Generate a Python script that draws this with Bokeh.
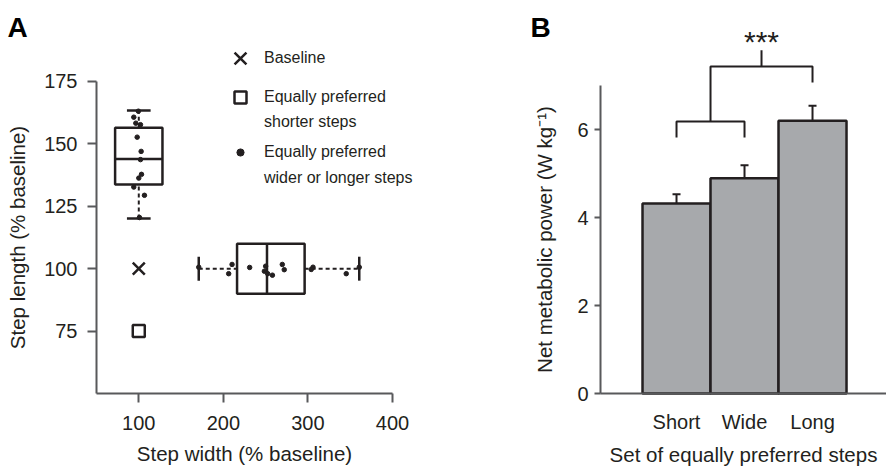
from bokeh.plotting import figure
from bokeh.models import (Range1d, FixedTicker, Legend, LegendItem, Label,
                          Whisker, ColumnDataSource, TeeHead)
from bokeh.layouts import row
from bokeh.embed import file_html
from bokeh.resources import INLINE
from bokeh.core.properties import value

# ---------------- data: panel A ----------------
baseline_width = [100]
baseline_length = [100]
shorter_width = [100]
shorter_length = [75]

# equally preferred longer steps (box along step length, at baseline width)
long_center = 100
long_stats = [120.1, 133.7, 143.9, 156.5, 163.4]   # low, q1, median, q3, high
long_x = [99.5, 94.1, 96.5, 102.0, 98.1, 102.8, 102.0, 103.2, 100.0, 94.1, 106.7, 100.8]
long_y = [163.1, 160.7, 158.3, 157.7, 152.7, 147.0, 143.7, 137.8, 136.3, 132.7, 129.4, 120.5]

# equally preferred wider steps (box along step width, at baseline length)
wide_center = 100
wide_stats = [170.9, 216.2, 251.6, 296.1, 360.7]
wide_x = [170.9, 210.3, 206.3, 231.1, 250.0, 248.5, 252.4, 258.0, 269.7, 272.0, 306.0, 303.9, 345.3, 360.7]
wide_y = [100.6, 101.7, 98.0, 100.5, 101.0, 99.0, 98.0, 97.4, 101.7, 99.6, 100.6, 99.7, 98.0, 100.6]

x_ticks_a = [100, 200, 300, 400]
y_ticks_a = [75, 100, 125, 150, 175]
x_axis_a = (50, 400)
y_axis_a = (50, 175)

# ---------------- data: panel B ----------------
categories = ["Short", "Wide", "Long"]
power = [4.32, 4.89, 6.20]
power_err = [0.21, 0.30, 0.34]
y_ticks_b = [0, 2, 4, 6]
y_axis_b = (0, 7)
sig_levels = [5.82, 6.18, 7.07, 7.43, 7.80]   # bracket leg / bar heights
sig_label = "***"
sig_text_y = 8.0

# ---------------- styles ----------------
DARK = "#231f20"
AXIS = "#58595b"
BAR = "#a7a9ac"
FONT = "Liberation Sans"
TICK_FS = "20px"
LABEL_FS = "20.5px"

def style_axes(p):
    for ax in (p.xaxis[0], p.yaxis[0]):
        ax.axis_line_color = AXIS
        ax.axis_line_width = 2
        ax.major_tick_line_color = AXIS
        ax.major_tick_line_width = 2
        ax.major_tick_in = 0
        ax.minor_tick_line_color = None
        ax.major_label_text_font = FONT
        ax.major_label_text_font_size = TICK_FS
        ax.major_label_text_color = DARK
        ax.axis_label_text_font = FONT
        ax.axis_label_text_font_size = LABEL_FS
        ax.axis_label_text_font_style = "normal"
        ax.axis_label_text_color = DARK
    p.xgrid.visible = False
    p.ygrid.visible = False
    p.outline_line_color = None

# ================= Panel A =================
# frame covers the whole figure; axes are pinned inside it with fixed_location
pA = figure(width=420, height=466, x_range=Range1d(-63.51, 433.11), y_range=Range1d(20.75, 207.45),
            output_backend="svg", toolbar_location=None,
            min_border_left=0, min_border_right=0, min_border_top=0, min_border_bottom=0)
style_axes(pA)
pA.xaxis.fixed_location = y_axis_a[0]
pA.yaxis.fixed_location = x_axis_a[0]
pA.xaxis.bounds = x_axis_a
pA.yaxis.bounds = y_axis_a
pA.xaxis.ticker = FixedTicker(ticks=x_ticks_a)
pA.yaxis.ticker = FixedTicker(ticks=y_ticks_a)
pA.xaxis.axis_label = "Step width (% baseline)"
pA.yaxis.axis_label = "Step length (% baseline)"
pA.xaxis.major_tick_out = 9
pA.yaxis.major_tick_out = 9
pA.xaxis.major_label_standoff = 14
pA.yaxis.major_label_standoff = 10
pA.xaxis.axis_label_standoff = 8
pA.yaxis.axis_label_standoff = 12

BOX_W = 56     # box width in x units (vertical box)
CAP_W = 28
BOX_H = 20     # box height in y units (horizontal box)
CAP_H = 9.6

lo, q1, med, q3, hi = long_stats
pA.vbar(x=[long_center], width=BOX_W, bottom=[q1], top=[q3], fill_color=None,
        line_color=DARK, line_width=2.5)
pA.segment(x0=[long_center - BOX_W / 2], x1=[long_center + BOX_W / 2], y0=[med], y1=[med],
           line_color=DARK, line_width=2.5)
pA.segment(x0=[long_center, long_center], x1=[long_center, long_center], y0=[lo, q3], y1=[q1, hi],
           line_color=DARK, line_width=2, line_dash="4 3")
pA.segment(x0=[long_center - CAP_W / 2] * 2, x1=[long_center + CAP_W / 2] * 2, y0=[lo, hi], y1=[lo, hi],
           line_color=DARK, line_width=2.5)

lo, q1, med, q3, hi = wide_stats
pA.hbar(y=[wide_center], height=BOX_H, left=[q1], right=[q3], fill_color=None,
        line_color=DARK, line_width=2.5)
pA.segment(x0=[med], x1=[med], y0=[wide_center - BOX_H / 2], y1=[wide_center + BOX_H / 2],
           line_color=DARK, line_width=2.5)
pA.segment(x0=[lo, q3], x1=[q1, hi], y0=[wide_center] * 2, y1=[wide_center] * 2,
           line_color=DARK, line_width=2, line_dash="4 3")
pA.segment(x0=[lo, hi], x1=[lo, hi], y0=[wide_center - CAP_H / 2] * 2, y1=[wide_center + CAP_H / 2] * 2,
           line_color=DARK, line_width=2.5)

r_long = pA.scatter(long_x, long_y, marker="circle", size=4.5, color=DARK)
r_wide = pA.scatter(wide_x, wide_y, marker="circle", size=4.5, color=DARK)
r_base = pA.scatter(baseline_width, baseline_length, marker="x", size=17, line_color=DARK, line_width=2.5)
r_short = pA.scatter(shorter_width, shorter_length, marker="square", size=12, fill_color="white",
                     line_color=DARK, line_width=2.5)
r_blank = pA.scatter(x=[], y=[], marker="circle", size=1, alpha=0)

def add_legend(p, label, rend, gw, gh, loc, standoff):
    lg = Legend(items=[LegendItem(label=label, renderers=[rend])], location=loc,
                glyph_width=gw, glyph_height=gh, label_height=20, label_standoff=standoff,
                padding=0, margin=0, spacing=0, border_line_alpha=0, background_fill_alpha=0,
                label_text_font=FONT, label_text_font_size="16px", label_text_color=DARK)
    p.add_layout(lg)

add_legend(pA, "Baseline", r_base, 42, 42, (219, 387), 3)
add_legend(pA, "Equally preferred", r_short, 30, 30, (225, 354), 9)
add_legend(pA, "shorter steps", r_blank, 30, 20, (225, 334), 9)
add_legend(pA, "Equally preferred", r_wide, 30, 18, (225, 304), 9)
add_legend(pA, "wider or longer steps", r_blank, 30, 20, (225, 278), 9)

pA.add_layout(Label(x=7, y=439, x_units="screen", y_units="screen", text="A",
                    text_font=FONT, text_font_size="28px", text_font_style="bold",
                    text_color="black", text_baseline="middle"))

# ================= Panel B =================
positions = list(range(len(categories)))
Y_AXIS_X = -1.1176          # x position (bar units) where the y axis is drawn
pB = figure(width=466, height=466, x_range=Range1d(-3.765, 3.088), y_range=Range1d(-1.659, 8.932),
            output_backend="svg", toolbar_location=None,
            min_border_left=0, min_border_right=0, min_border_top=0, min_border_bottom=0)
style_axes(pB)
pB.xaxis.fixed_location = 0
pB.yaxis.fixed_location = Y_AXIS_X
pB.xaxis.bounds = (Y_AXIS_X, 3.088)
pB.yaxis.bounds = y_axis_b
pB.yaxis.ticker = FixedTicker(ticks=y_ticks_b)
pB.yaxis.major_tick_out = 6
pB.yaxis.major_label_standoff = 6
pB.yaxis.axis_label_standoff = 18
pB.yaxis.axis_label = "Net metabolic power (W kg\u207b\u00b9)"
pB.xaxis.ticker = FixedTicker(ticks=positions)
pB.xaxis.major_label_overrides = {i: c for i, c in zip(positions, categories)}
pB.xaxis.major_tick_out = 0
pB.xaxis.major_tick_line_color = None
pB.xaxis.major_label_standoff = 17
pB.xaxis.axis_label_standoff = 7
pB.xaxis.axis_label = "Set of equally preferred steps"

src = ColumnDataSource(dict(pos=positions, cat=categories, power=power,
                            upper=[v + e for v, e in zip(power, power_err)],
                            lower=[v - e for v, e in zip(power, power_err)]))
pB.vbar(x="pos", top="power", width=1.0, source=src, fill_color=BAR,
        line_color=DARK, line_width=2.5)
pB.add_layout(Whisker(base="pos", upper="upper", lower="lower", source=src,
                      line_color=DARK, line_width=2,
                      upper_head=TeeHead(size=8, line_color=DARK, line_width=2),
                      lower_head=TeeHead(size=8, line_color=DARK, line_width=2)))

mid_low = (positions[0] + positions[1]) / 2
mid_up = (mid_low + positions[2]) / 2
leg_lo, bar_lo, leg_up, bar_up, stem_top = sig_levels
pB.multi_line(xs=[[positions[0], positions[0], positions[1], positions[1]],
                  [mid_low, mid_low, positions[2], positions[2]],
                  [mid_up, mid_up]],
              ys=[[leg_lo, bar_lo, bar_lo, leg_lo],
                  [bar_lo, bar_up, bar_up, leg_up],
                  [bar_up, stem_top]],
              line_color=DARK, line_width=2)
pB.text(x=[mid_up], y=[sig_text_y], text=[sig_label], text_align="center", text_baseline="middle",
        text_font=value(FONT), text_font_size="30px", text_color=DARK)

pB.add_layout(Label(x=110, y=439, x_units="screen", y_units="screen", text="B",
                    text_font=FONT, text_font_size="28px", text_font_style="bold",
                    text_color="black", text_baseline="middle"))

layout = row(pA, pB)
open("out.html", "w").write(file_html(layout, INLINE))
